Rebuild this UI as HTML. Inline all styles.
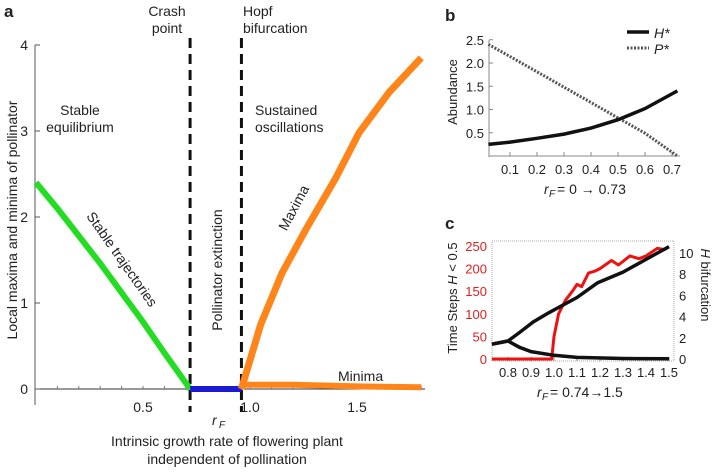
<!DOCTYPE html>
<html><head><meta charset="utf-8"><style>
body{margin:0;background:#fff}
svg text{font-family:"Liberation Sans",sans-serif;fill:#222}
</style></head><body>
<svg id="chart" width="715" height="471" viewBox="0 0 715 471" xmlns="http://www.w3.org/2000/svg"></svg>
<script>
// Panel a data
const aGreenX=[0,0.1,0.2,0.3,0.4,0.5,0.6,0.72];
const aGreenY=[2.4,2.1,1.78,1.46,1.12,0.78,0.42,0];
const aBlueX=[0.72,0.96];
const aBlueY=[0,0];
const aMaxX=[0.96,1.05,1.15,1.26,1.4,1.51,1.65,1.8];
const aMaxY=[0,0.75,1.35,1.85,2.45,2.98,3.45,3.85];
const aMinX=[0.96,1.2,1.5,1.8];
const aMinY=[0.05,0.05,0.03,0.02];
const aXTicks=[0.5,1.0,1.5];
const aXTickLabels=["0.5","1.0","1.5"];
const aYTicks=[0,1,2,3,4];
const aDash=[0.72,0.96];
// Panel b data
const bX=[0.02,0.1,0.2,0.3,0.4,0.5,0.6,0.72];
const bH=[0.25,0.3,0.38,0.47,0.6,0.78,1.02,1.4];
const bP=[2.4,2.14,1.81,1.48,1.15,0.82,0.49,0];
const bXTicks=[0.1,0.2,0.3,0.4,0.5,0.6,0.7];
const bYTicks=[0.5,1.0,1.5,2.0,2.5];
// Panel c data
const cRedX=[0.73,0.99,1.0,1.02,1.05,1.08,1.1,1.12,1.15,1.18,1.2,1.25,1.28,1.33,1.37,1.4,1.45,1.48,1.5];
const cRed=[0,0,50,100,130,150,165,160,190,195,200,218,208,228,222,228,245,242,248];
const cUpX=[0.73,0.8,0.85,0.91,0.98,1.1,1.19,1.3,1.4,1.5];
const cUp=[1.4,1.7,2.5,3.5,4.4,5.8,7.2,8.2,9.4,10.6];
const cLoX=[0.73,0.8,0.85,0.9,1.0,1.1,1.3,1.5];
const cLo=[1.4,1.7,1.1,0.7,0.35,0.15,0.05,0.02];
const cXTicks=[0.8,0.9,1.0,1.1,1.2,1.3,1.4,1.5];
const cLTicks=[0,50,100,150,200,250];
const cRTicks=[0,2,4,6,8,10];

const svg=document.getElementById('chart');
const NS='http://www.w3.org/2000/svg';
function mk(tag,attrs,name,parent){const e=document.createElementNS(NS,tag);for(const k in attrs)e.setAttribute(k,attrs[k]);


(parent||svg).appendChild(e);return e;}
function txt(x,y,s,size,name,extra){const t=mk('text',Object.assign({x:x,y:y,'font-size':size},extra||{}),name);t.textContent=s;return t;}
function path(xs,ys,fx,fy){return xs.map((v,i)=>(i?'L':'M')+fx(v).toFixed(1)+','+fy(ys[i]).toFixed(1)).join('');}

// ---- Panel a ----
const ax=v=>36+v*214, ay=v=>389-v*86;
mk('line',{x1:35,y1:45,x2:35,y2:405,stroke:'#555','stroke-width':1},'a-y-axis');
mk('line',{x1:35,y1:389,x2:425,y2:389,stroke:'#333','stroke-width':1},'a-x-axis');
aYTicks.forEach(v=>{mk('line',{x1:35,y1:ay(v),x2:40,y2:ay(v),stroke:'#555'},'a-y-tick');txt(28,ay(v)+5,String(v),14,'a-y-tick-label',{'text-anchor':'end'});});
for(let v=0.1;v<1.85;v+=0.1){mk('line',{x1:ax(v),y1:389,x2:ax(v),y2:386,stroke:'#777'},'a-x-minor-tick');}
aXTicks.forEach((v,i)=>txt(ax(v),412,aXTickLabels[i],14,'a-x-tick-label',{'text-anchor':'middle'}));
aDash.forEach(v=>mk('line',{x1:ax(v),y1:38,x2:ax(v),y2:412,stroke:'#111','stroke-width':3,'stroke-dasharray':'10,6'},'a-dashed-line'));
mk('path',{d:path(aGreenX,aGreenY,ax,ay),fill:'none',stroke:'#22dd22','stroke-width':6,'stroke-linejoin':'round'},'green-stable-series');
mk('path',{d:path(aBlueX,aBlueY,ax,ay),fill:'none',stroke:'#1a1ad0','stroke-width':6},'blue-extinction-series');
mk('path',{d:path(aMaxX,aMaxY,ax,ay),fill:'none',stroke:'#ff8419','stroke-width':7,'stroke-linejoin':'round'},'orange-maxima-series');
mk('path',{d:path(aMinX,aMinY,ax,ay),fill:'none',stroke:'#ff8419','stroke-width':6},'orange-minima-series');
txt(4,17,'a',17,'panel-a-label',{'font-weight':'bold'});
txt(167,16,'Crash',14,'crash-label',{'text-anchor':'middle'});
txt(167,33,'point',14,'crash-label-2',{'text-anchor':'middle'});
txt(243,16,'Hopf',14,'hopf-label');
txt(243,33,'bifurcation',14,'hopf-label-2');
txt(80,115,'Stable',14,'stable-eq-label',{'text-anchor':'middle'});
txt(80,132,'equilibrium',14,'stable-eq-label-2',{'text-anchor':'middle'});
txt(255,115,'Sustained',14,'sustained-label');
txt(255,132,'oscillations',14,'sustained-label-2');
txt(0,0,'Stable trajectories',14,'stable-trajectories-label',{transform:'translate(118,262) rotate(55)','text-anchor':'middle'});
txt(0,0,'Pollinator extinction',14,'pollinator-extinction-label',{transform:'translate(222,270) rotate(-90)','text-anchor':'middle'});
txt(0,0,'Maxima',14,'maxima-label',{transform:'translate(298,210) rotate(-62)','text-anchor':'middle'});
txt(338,381,'Minima',14,'minima-label');
txt(0,0,'Local maxima and minima of pollinator',14,'a-y-axis-title',{transform:'translate(17,220) rotate(-90)','text-anchor':'middle'});
txt(212,425,'r',14,'a-rf-label',{'font-style':'italic'});
txt(219,428,'F',10,'a-rf-sub',{'font-style':'italic'});
txt(227,446,'Intrinsic growth rate of flowering plant',14,'a-x-axis-title',{'text-anchor':'middle'});
txt(227,464,'independent of pollination',14,'a-x-axis-title-2',{'text-anchor':'middle'});

// ---- Panel b ----
const bx=v=>483+v*270, by=v=>156-v*46.5;
mk('line',{x1:489,y1:40,x2:489,y2:157,stroke:'#888'},'b-y-axis');
mk('line',{x1:489,y1:156,x2:680,y2:156,stroke:'#888'},'b-x-axis');
bYTicks.forEach(v=>{mk('line',{x1:489,y1:by(v),x2:493,y2:by(v),stroke:'#888'},'b-y-tick');txt(484,by(v)+5,v.toFixed(1),13,'b-y-tick-label',{'text-anchor':'end'});});
bXTicks.forEach(v=>{mk('line',{x1:bx(v),y1:156,x2:bx(v),y2:152,stroke:'#888'},'b-x-tick');txt(bx(v),174,v.toFixed(1),13,'b-x-tick-label',{'text-anchor':'middle'});});
mk('path',{d:path(bX,bP,bx,by),fill:'none',stroke:'#555','stroke-width':3,'stroke-dasharray':'2,1.5'},'b-p-star-series');
mk('path',{d:path(bX,bH,bx,by),fill:'none',stroke:'#111','stroke-width':3.5},'b-h-star-series');
mk('line',{x1:627,y1:32,x2:649,y2:32,stroke:'#111','stroke-width':3.5},'legend-h-line');
txt(654,38,'H*',14,'legend-h-label',{'font-style':'italic'});
mk('line',{x1:627,y1:48,x2:649,y2:48,stroke:'#555','stroke-width':3,'stroke-dasharray':'2,1.5'},'legend-p-line');
txt(654,54,'P*',14,'legend-p-label',{'font-style':'italic'});
txt(0,0,'Abundance',13,'b-y-axis-title',{transform:'translate(457,92) rotate(-90)','text-anchor':'middle'});
txt(544,194,'r',14,'b-x-title-r',{'font-style':'italic'});
txt(549,197,'F',10,'b-x-title-sub',{'font-style':'italic'});
txt(557,194,'= 0 → 0.73',14,'b-x-axis-title');
txt(445,21,'b',17,'panel-b-label',{'font-weight':'bold'});

// ---- Panel c ----
const cx=v=>508+(v-0.8)*230, cyl=v=>359-v*0.452, cyr=v=>359-v*10.6;
mk('rect',{x:492,y:241,width:182,height:120,fill:'none',stroke:'#aaa','stroke-dasharray':'1,1'},'c-frame');
cLTicks.forEach(v=>txt(487,cyl(v)+5,String(v),13,'c-left-tick-label',{'text-anchor':'end',style:'fill:#e02020'}));
cRTicks.forEach(v=>txt(679,cyr(v)+5,String(v),13,'c-right-tick-label'));
cXTicks.forEach(v=>{mk('line',{x1:cx(v),y1:361,x2:cx(v),y2:357,stroke:'#888'},'c-x-tick');txt(cx(v),377,v.toFixed(1),13,'c-x-tick-label',{'text-anchor':'middle'});});
mk('path',{d:path(cRedX,cRed,cx,cyl),fill:'none',stroke:'#ee1111','stroke-width':3,'stroke-linejoin':'round'},'c-red-timesteps-series');
mk('path',{d:path(cUpX,cUp,cx,cyr),fill:'none',stroke:'#111','stroke-width':3.5,'stroke-linejoin':'round'},'c-h-upper-series');
mk('path',{d:path(cLoX,cLo,cx,cyr),fill:'none',stroke:'#111','stroke-width':3.5,'stroke-linejoin':'round'},'c-h-lower-series');
const ts=txt(0,0,'',13,'c-left-axis-title',{transform:'translate(457,298) rotate(-90)','text-anchor':'middle'});
ts.innerHTML='Time Steps <tspan font-style="italic">H</tspan> &lt; 0.5';
const hb=txt(0,0,'',13,'c-right-axis-title',{transform:'translate(701,285) rotate(90)','text-anchor':'middle'});
hb.innerHTML='<tspan font-style="italic">H</tspan> bifurcation';
txt(537,397,'r',14,'c-x-title-r',{'font-style':'italic'});
txt(542,400,'F',10,'c-x-title-sub',{'font-style':'italic'});
txt(550,397,'= 0.74→1.5',14,'c-x-axis-title');
txt(445,229,'c',17,'panel-c-label',{'font-weight':'bold'});
</script>
</body></html>
